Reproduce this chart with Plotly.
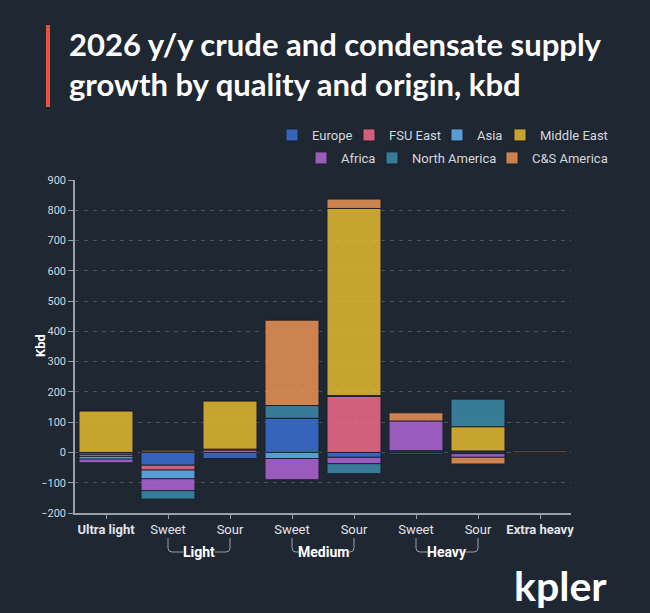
import plotly.graph_objects as go

BG = "#1f2733"

categories = ["Ultra light", "Sweet", "Sour", "Sweet", "Sour", "Sweet", "Sour", "Extra heavy"]
tick_text = ["<b>Ultra light</b>", "Sweet", "Sour", "Sweet", "Sour", "Sweet", "Sour", "<b>Extra heavy</b>"]
groups = ["Light", "Medium", "Heavy"]

europe        = [-6, -42, -20, 113, -16, 6, 5, 0]
fsu_east      = [-7, -16, 8, 0, 185, 0, 0, 1]
asia          = [-9, -29, 3, -20, 3, 0, -4, 0]
middle_east   = [138, 5, 160, 0, 618, 0, 80, 0]
africa        = [-12, -39, 0, -70, -21, 98, -12, 0]
north_america = [0, -28, -3, 42, -33, -5, 91, 0]
cs_america    = [0, 3, 0, 282, 31, 27, -22, 4]

series = [
    ("Europe", europe, "#3b74dc"),
    ("FSU East", fsu_east, "#ff6f8f"),
    ("Asia", asia, "#66bbff"),
    ("Middle East", middle_east, "#f2c230"),
    ("Africa", africa, "#b86ae0"),
    ("North America", north_america, "#3d91b0"),
    ("C&S America", cs_america, "#f89a58"),
]

W, H = 650, 613
ML, MR, MT, MB = 75, 79, 180, 100
PW = W - ML - MR
PH = H - MT - MB

def px(xp):
    return (xp - ML) / PW

def py(yp):
    return (H - MB - yp) / PH

# legend text start (px) and row centre (px) per entry
legend_pos = [(310, 135), (387, 135), (475, 135), (538, 135),
              (339, 158), (410, 158), (530, 158)]

xpos = list(range(len(categories)))
axis_col = "#9aa0a8"
txt_col = "#d4d7dc"

fig = go.Figure()
legend_layout = {}
for i, (name, vals, col) in enumerate(series):
    key = "legend" if i == 0 else f"legend{i + 1}"
    fig.add_trace(go.Bar(
        x=xpos, y=vals, name=name, legend=key,
        marker=dict(color=col, line=dict(color="rgba(25,30,40,0.9)", width=1)),
        opacity=0.8,
    ))
    tx, ty = legend_pos[i]
    legend_layout[key] = dict(orientation="h", x=px(tx - 38), xanchor="left", y=py(ty), yanchor="middle",
                              font=dict(size=13, color=txt_col, family="Roboto"),
                              bgcolor="rgba(0,0,0,0)", borderwidth=0)

fig.update_layout(
    width=W, height=H,
    paper_bgcolor=BG, plot_bgcolor=BG,
    margin=dict(l=ML, r=MR, t=MT, b=MB, autoexpand=False),
    barmode="relative", bargap=0.13,
    showlegend=True,
    font=dict(family="Roboto", color=txt_col),
    **legend_layout,
)

fig.update_xaxes(
    range=[-0.5, 7.5], tickmode="array", tickvals=xpos, ticktext=tick_text,
    showline=True, linecolor=axis_col, linewidth=1.5,
    ticks="outside", ticklen=4, tickcolor=axis_col,
    tickfont=dict(size=13, color="#e2e4e8", family="Roboto"),
    showgrid=False, zeroline=False, fixedrange=True,
)
fig.update_yaxes(
    range=[-200, 900], tickmode="linear", tick0=-200, dtick=100,
    showline=True, linecolor=axis_col, linewidth=1.5,
    ticks="outside", ticklen=5, tickcolor=axis_col,
    tickfont=dict(size=11, color=txt_col, family="Roboto"),
    showgrid=True, gridcolor="#4a525f", gridwidth=1, griddash="4px,5px",
    zeroline=False,
)

annotations = []
annotations.append(dict(
    text="<b>2026 y/y crude and condensate supply<br>growth by quality and origin, kbd</b>",
    xref="paper", yref="paper", x=px(67), y=py(64), xanchor="left", yanchor="middle",
    align="left", showarrow=False, font=dict(family="Lato", size=31, color="#ffffff"),
))
annotations.append(dict(text="<b>Kbd</b>", xref="paper", yref="paper", x=px(40), y=py(346),
                        xanchor="center", yanchor="middle", textangle=-90, showarrow=False,
                        font=dict(size=13, color="#ffffff", family="Roboto")))
shapes = [dict(type="rect", xref="paper", yref="paper", x0=px(46), x1=px(50), y0=py(25), y1=py(107),
               fillcolor="#e8503f", line=dict(width=0))]
half_w = {"Light": 16, "Medium": 24, "Heavy": 19}
ppu = PW / 8.0
for gi, g in enumerate(groups):
    left = 1 + 2 * gi
    right = left + 1
    mid = (left + right) / 2
    annotations.append(dict(text=f"<b>{g}</b>", xref="x", yref="paper", x=mid, y=py(552),
                            xanchor="center", yanchor="middle", showarrow=False,
                            font=dict(size=14, color="#ffffff", family="Roboto")))
    hw = half_w[g] / ppu
    r = 4 / ppu
    y0 = py(538)
    yc = py(548)
    yb = py(552)
    shapes.append(dict(type="path", xref="x", yref="paper",
                       path=f"M {left},{y0} L {left},{yc} Q {left},{yb} {left + r},{yb} L {mid - hw},{yb}",
                       line=dict(color=axis_col, width=1)))
    shapes.append(dict(type="path", xref="x", yref="paper",
                       path=f"M {right},{y0} L {right},{yc} Q {right},{yb} {right - r},{yb} L {mid + hw},{yb}",
                       line=dict(color=axis_col, width=1)))

annotations.append(dict(text="<b>kpler</b>", xref="paper", yref="paper", x=px(560), y=py(585),
                        xanchor="center", yanchor="middle", showarrow=False,
                        font=dict(family="Lato", size=41, color="#ffffff")))

fig.update_layout(annotations=annotations, shapes=shapes)

fig.write_html("out.html")
